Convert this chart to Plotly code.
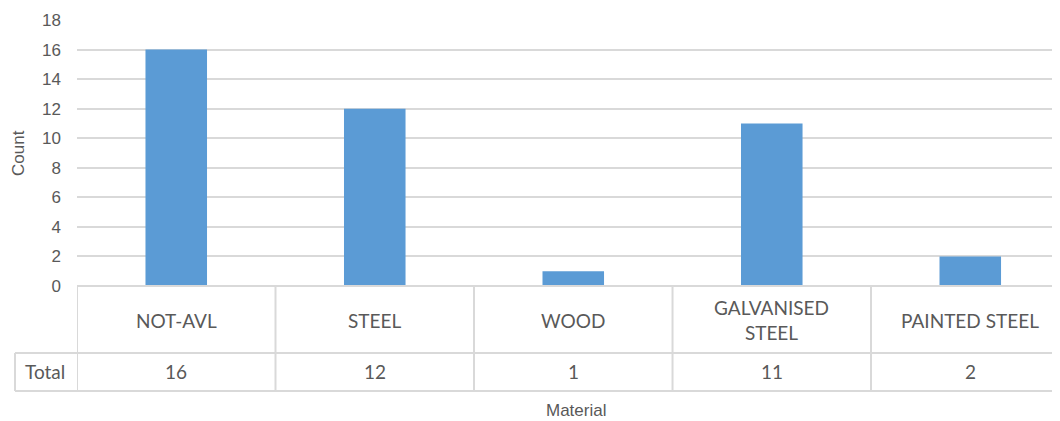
import plotly.graph_objects as go

materials = ["NOT-AVL", "STEEL", "WOOD", "GALVANISED STEEL", "PAINTED STEEL"]
table_labels = ["NOT-AVL", "STEEL", "WOOD", "GALVANISED<br>STEEL", "PAINTED STEEL"]
counts = [16, 12, 1, 11, 2]
y_ticks = [0, 2, 4, 6, 8, 10, 12, 14, 16, 18]

# page has an 8px body margin, so the figure is a bit smaller than the window
OFF = 8
W, H = 1060 - OFF, 421 - OFF
GRID = "#d9d9d9"
TEXT = "#595959"
FONT = "Lato, Open Sans, Arial"
NARROW = "Liberation Sans Narrow, Arial Narrow, Arial"


def py(pix):
    # screen row -> paper y
    return (H - (pix - OFF)) / H


def px_(pix):
    return (pix - OFF) / W


fig = go.Figure(go.Bar(
    x=list(range(len(materials))), y=counts,
    marker=dict(color="#5b9bd5", line=dict(width=0)),
    width=0.31, hoverinfo="x+y"
))

shapes = []
shapes.append(dict(type="line", xref="paper", yref="paper", x0=px_(77), x1=1, y0=py(286), y1=py(286),
                   line=dict(color=GRID, width=2)))
for yy in (353, 391):
    shapes.append(dict(type="line", xref="paper", yref="paper", x0=px_(15), x1=1, y0=py(yy), y1=py(yy),
                       line=dict(color=GRID, width=2)))
for i in range(len(materials)):
    shapes.append(dict(type="line", xref="x", yref="paper", x0=i - 0.5, x1=i - 0.5, y0=py(286), y1=py(391),
                       line=dict(color=GRID, width=2)))
shapes.append(dict(type="line", xref="paper", yref="paper", x0=px_(15), x1=px_(15), y0=py(353), y1=py(391),
                   line=dict(color=GRID, width=2)))

annotations = []
for i, (lab, c) in enumerate(zip(table_labels, counts)):
    annotations.append(dict(x=i, y=py(320), xref="x", yref="paper", text=lab, showarrow=False,
                            font=dict(size=19, color=TEXT, family=FONT), xanchor="center", yanchor="middle"))
    annotations.append(dict(x=i, y=py(371), xref="x", yref="paper", text=str(c), showarrow=False,
                            font=dict(size=19, color=TEXT, family=FONT), xanchor="center", yanchor="middle"))
annotations.append(dict(x=px_(45), y=py(371), xref="paper", yref="paper", text="Total", showarrow=False,
                        font=dict(size=19, color=TEXT, family=FONT), xanchor="center", yanchor="middle"))
annotations.append(dict(x=px_(576), y=py(410), xref="paper", yref="paper", text="Material", showarrow=False,
                        font=dict(size=17, color=TEXT, family=NARROW), xanchor="center", yanchor="middle"))
annotations.append(dict(x=px_(18), y=py(153), xref="paper", yref="paper", text="Count", showarrow=False,
                        textangle=-90, font=dict(size=17, color=TEXT, family=NARROW),
                        xanchor="center", yanchor="middle"))

fig.update_layout(
    width=W, height=H,
    margin=dict(l=0, r=0, t=0, b=0, pad=0, autoexpand=False),
    plot_bgcolor="white", paper_bgcolor="white",
    showlegend=False,
    shapes=shapes, annotations=annotations,
    xaxis=dict(domain=[px_(77), 1], range=[-0.5, 4.452], showticklabels=False, showgrid=False,
               zeroline=False, showline=False, ticks="", automargin=False),
    yaxis=dict(domain=[py(286), py(20)], range=[0, 18], tickvals=y_ticks, showgrid=True,
               gridcolor=GRID, gridwidth=2, zeroline=False, showline=False, ticks="",
               ticklabelstandoff=15, automargin=False,
               tickfont=dict(size=17, color=TEXT, family=NARROW)),
)

fig.write_html("out.html")
